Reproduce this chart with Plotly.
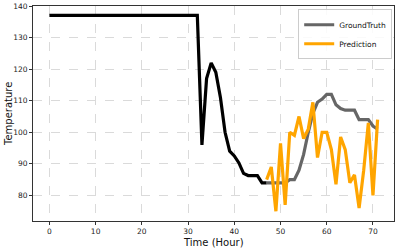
import plotly.graph_objects as go

hist_x = list(range(0, 48))
hist_y = [137] * 33 + [96, 117, 122, 119, 111, 100, 94, 92.5, 90.3, 87, 86.3, 86.3, 86.3, 84, 84]

fut_x = list(range(47, 72))
truth_y = [84, 84, 84, 84, 84, 85, 85, 88, 93, 100, 106, 109.5, 110.5, 112, 112,
           108.7, 107.5, 107, 107, 107, 104, 104, 104, 102, 101]
pred_y = [85, 89, 75, 96.5, 77, 100, 99, 105, 98, 101, 109.5, 92, 100, 100, 94.5,
          83.5, 98.5, 94.5, 84, 86.5, 76, 88, 103, 80, 104]

x_ticks = [0, 10, 20, 30, 40, 50, 60, 70]
y_ticks = [80, 90, 100, 110, 120, 130, 140]

fig = go.Figure()
fig.add_trace(go.Scatter(x=hist_x, y=hist_y, mode="lines", showlegend=False,
                         line=dict(color="black", width=3.2)))
fig.add_trace(go.Scatter(x=fut_x, y=truth_y, mode="lines", name="GroundTruth",
                         line=dict(color="#666666", width=3.2)))
fig.add_trace(go.Scatter(x=fut_x, y=pred_y, mode="lines", name="Prediction",
                         line=dict(color="#FFA500", width=3.2)))

axis_common = dict(showline=True, linecolor="#333333", linewidth=1, mirror=True,
                   ticks="outside", ticklen=3, tickcolor="#333333",
                   showgrid=True, gridcolor="#dadada", griddash="dash", gridwidth=0.8,
                   zeroline=False, automargin=False,
                   tickfont=dict(size=7.5, color="#222"))

fig.update_layout(
    width=399, height=249,
    margin=dict(l=33, r=5, t=6, b=28),
    paper_bgcolor="white", plot_bgcolor="white",
    font=dict(family="DejaVu Sans", color="#111"),
    xaxis=dict(range=[-3.55, 74.55], tickvals=x_ticks, **axis_common),
    yaxis=dict(range=[71.9, 140], tickvals=y_ticks, **axis_common),
    legend=dict(x=0.995, y=0.985, xanchor="right", yanchor="top",
                bgcolor="rgba(255,255,255,0.85)", bordercolor="#cccccc", borderwidth=1,
                font=dict(size=7.5), itemwidth=30, tracegroupgap=0),
    annotations=[
        dict(text="Time (Hour)", xref="paper", yref="paper", x=0.5, y=-0.098,
             xanchor="center", yanchor="middle", showarrow=False, font=dict(size=10)),
        dict(text="Temperature", xref="paper", yref="paper", x=-0.068, y=0.5,
             xanchor="center", yanchor="middle", textangle=-90, showarrow=False,
             font=dict(size=10)),
    ],
)

fig.write_html("out.html", config={"displayModeBar": False},
               post_script="document.body.style.margin='0';document.body.style.overflow='hidden';")
